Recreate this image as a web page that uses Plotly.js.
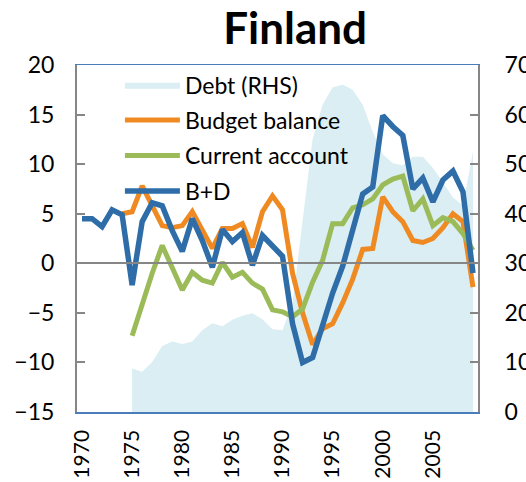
<!DOCTYPE html>
<html>
<head>
<meta charset="utf-8">
<script src="https://cdn.plot.ly/plotly-3.0.1.min.js"></script>
<style>
  html, body { margin: 0; padding: 0; background: #ffffff; }
  #chart { width: 526px; height: 482px; }
</style>
</head>
<body>
<div id="chart"></div>
<script>
const years = [1970, 1971, 1972, 1973, 1974, 1975, 1976, 1977, 1978, 1979,
               1980, 1981, 1982, 1983, 1984, 1985, 1986, 1987, 1988, 1989,
               1990, 1991, 1992, 1993, 1994, 1995, 1996, 1997, 1998, 1999,
               2000, 2001, 2002, 2003, 2004, 2005, 2006, 2007, 2008, 2009];

// Debt, % of GDP (right-hand scale)
const debt = [null, null, null, null, null, 8.8, 8.1, 10.1, 13.3, 14.2,
              13.7, 14.2, 16.5, 17.9, 17.3, 18.6, 19.4, 19.9, 18.7, 16.7,
              16.5, 22.0, 38.0, 55.0, 62.0, 65.5, 66.0, 65.0, 62.0, 56.5,
              52.0, 50.2, 49.8, 51.5, 51.5, 49.2, 46.3, 43.3, 41.6, 52.5];

// Budget balance, % of GDP
const budget = [null, null, null, null, 5.0, 5.2, 7.8, 5.8, 3.8, 3.6,
                3.8, 5.2, 3.3, 1.5, 3.5, 3.5, 4.0, 1.6, 5.2, 6.8,
                5.4, -1.0, -5.0, -8.2, -6.6, -6.1, -4.0, -1.6, 1.4, 1.5,
                6.7, 5.2, 4.2, 2.3, 2.1, 2.5, 3.6, 5.0, 4.2, -2.4];

// Current account, % of GDP
const current = [null, null, null, null, null, -7.3, -4.0, -1.0, 1.8, -0.5,
                 -2.7, -0.9, -1.7, -2.0, 0.1, -1.4, -0.9, -2.0, -2.6, -4.7,
                 -4.9, -5.4, -4.6, -1.9, 0.3, 4.0, 4.0, 5.6, 5.9, 6.5,
                 7.9, 8.5, 8.8, 5.3, 6.5, 3.8, 4.6, 4.2, 3.0, 1.3];

// B+D
const bd = [4.5, 4.5, 3.7, 5.4, 4.9, -2.2, 4.2, 6.1, 5.8, 3.3,
            1.2, 4.5, 2.3, -0.4, 3.4, 2.2, 3.1, -0.2, 2.8, 1.8,
            0.7, -6.1, -10.0, -9.5, -6.3, -3.0, -0.3, 3.3, 7.0, 7.7,
            14.9, 13.8, 12.9, 7.5, 8.6, 6.2, 8.4, 9.3, 7.2, -1.0];

const xTicks = [1970, 1975, 1980, 1985, 1990, 1995, 2000, 2005];
const leftTicks = [-15, -10, -5, 0, 5, 10, 15, 20];
const rightTicks = [0, 10, 20, 30, 40, 50, 60, 70];

const FONT = 'Lato, "Open Sans", sans-serif';
const AXISGRAY = '#868686';

const traces = [
  {
    x: years, y: debt, name: 'Debt (RHS)', type: 'scatter', mode: 'lines',
    fill: 'tozeroy', fillcolor: '#DAEEF3', line: {width: 0, color: '#DAEEF3'},
    yaxis: 'y', hoverinfo: 'skip', legendgroup: 'g1'
  },
  {
    x: years, y: budget, name: 'Budget balance', type: 'scatter', mode: 'lines',
    line: {color: '#EF8A22', width: 5}, yaxis: 'y2', legendgroup: 'g2'
  },
  {
    x: years, y: current, name: 'Current account', type: 'scatter', mode: 'lines',
    line: {color: '#9BBB59', width: 5}, yaxis: 'y2', legendgroup: 'g3'
  },
  {
    x: years, y: bd, name: 'B+D', type: 'scatter', mode: 'lines',
    line: {color: '#2E6DA8', width: 5.5}, yaxis: 'y2', legendgroup: 'g4'
  }
];

const layout = {
  width: 526, height: 482,
  margin: {l: 77, r: 48, t: 65, b: 70},
  paper_bgcolor: '#ffffff', plot_bgcolor: '#ffffff',
  font: {family: FONT, size: 23, color: '#000000'},
  title: {
    text: '<b>Finland</b>', font: {family: FONT, size: 44, color: '#000000'},
    x: 0.561, xanchor: 'center', y: 0.94, yanchor: 'middle', yref: 'container'
  },
  showlegend: true,
  legend: {
    x: 0.107, xanchor: 'left', y: 1.005, yanchor: 'top',
    bgcolor: 'rgba(0,0,0,0)', borderwidth: 0,
    font: {family: FONT, size: 23, color: '#000000'},
    itemwidth: 55, tracegroupgap: 2.5
  },
  xaxis: {
    range: [1969.5, 2009.5], tickmode: 'array', tickvals: xTicks,
    ticktext: xTicks.map(String), tickangle: -90, ticks: '',
    showgrid: false, zeroline: false,
    showline: true, linecolor: '#4A7EBB', linewidth: 1.5, mirror: true,
    tickfont: {family: FONT, size: 21}, ticklabelstandoff: 8
  },
  yaxis: {
    side: 'right', range: [0, 70], tickmode: 'array', tickvals: rightTicks,
    showgrid: false, zeroline: false,
    showline: true, linecolor: AXISGRAY, linewidth: 2,
    ticks: 'inside', ticklen: 8, tickwidth: 2, tickcolor: AXISGRAY,
    tickfont: {family: FONT, size: 23}, ticklabelstandoff: 20
  },
  yaxis2: {
    overlaying: 'y', side: 'left', range: [-15, 20], tickmode: 'array', tickvals: leftTicks,
    showgrid: false, zeroline: true, zerolinecolor: AXISGRAY, zerolinewidth: 2,
    zerolinelayer: 'above traces',
    showline: true, linecolor: AXISGRAY, linewidth: 2,
    ticks: 'inside', ticklen: 8, tickwidth: 2, tickcolor: AXISGRAY,
    tickfont: {family: FONT, size: 23}, ticklabelstandoff: 16
  }
};

Plotly.newPlot('chart', traces, layout, {displayModeBar: false, staticPlot: true});
</script>
</body>
</html>
